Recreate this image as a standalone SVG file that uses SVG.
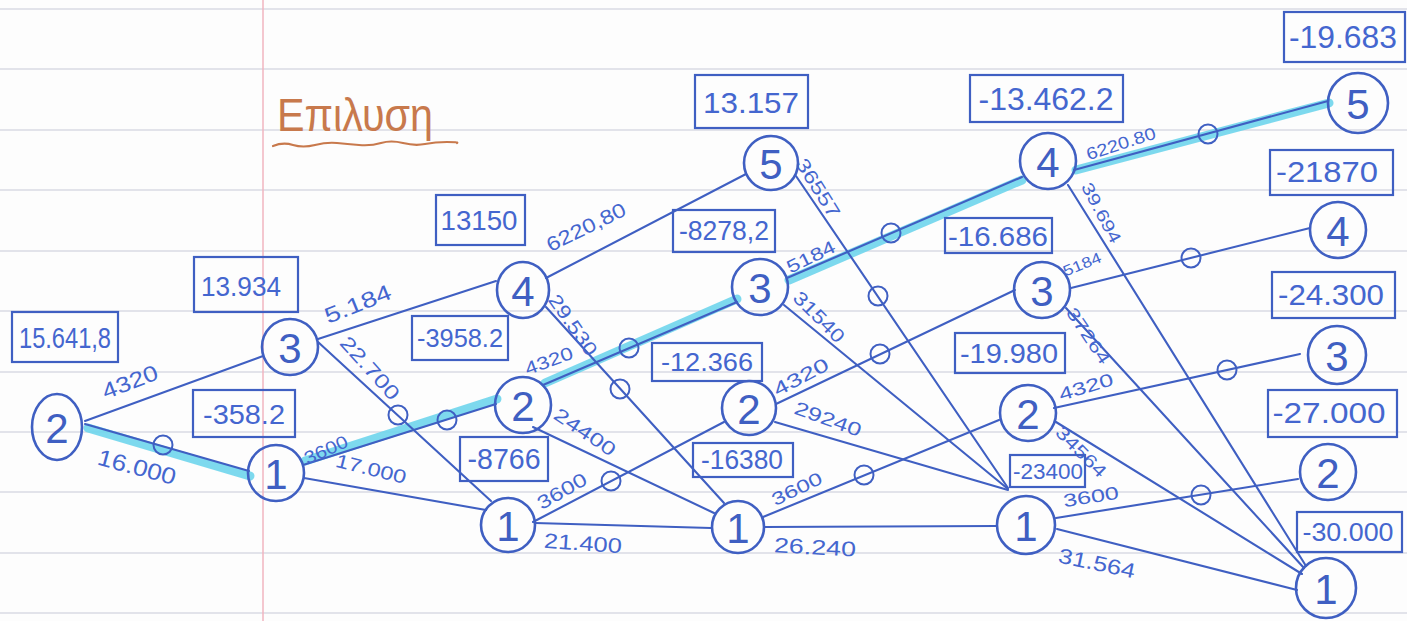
<svg xmlns="http://www.w3.org/2000/svg" width="1407" height="621" viewBox="0 0 1407 621">
  <defs>
    <style>
      .rule { stroke: #e2e3ea; stroke-width: 2; }
      .margin { stroke: #f0b4bf; stroke-width: 1.5; }
      .edge { stroke: #3f5fc2; stroke-width: 2.1; fill: none; stroke-linecap: round; }
      .hl { stroke: #6fd5ec; stroke-width: 9; fill: none; stroke-linecap: round; opacity: 0.9; }
      .mark { stroke: #3f5fc2; stroke-width: 2; fill: none; }
      .ring { stroke: #3f5fc2; stroke-width: 2.6; fill: none; }
      .box { stroke: #3f5fc2; stroke-width: 2.2; fill: none; }
      .digit { fill: #3f5fc2; font-family: 'Liberation Sans', sans-serif; font-size: 42px; text-anchor: middle; dominant-baseline: central; }
      .val { fill: #4466cf; font-family: 'Liberation Sans', sans-serif; text-anchor: middle; dominant-baseline: central; }
      .cost { fill: #4466cf; font-family: 'Liberation Sans', sans-serif; text-anchor: middle; dominant-baseline: central; }
      .title { fill: #c8794c; font-family: 'Liberation Sans', sans-serif; font-size: 46px; }
    </style>
  </defs>

  <!-- notebook paper -->
  <rect width="1407" height="621" fill="#fdfdfd"/>
  <g id="paper">
    <line class="rule" x1="0" y1="9" x2="1407" y2="9"/>
    <line class="rule" x1="0" y1="69" x2="1407" y2="69"/>
    <line class="rule" x1="0" y1="130" x2="1407" y2="130"/>
    <line class="rule" x1="0" y1="190" x2="1407" y2="190"/>
    <line class="rule" x1="0" y1="251" x2="1407" y2="251"/>
    <line class="rule" x1="0" y1="311" x2="1407" y2="311"/>
    <line class="rule" x1="0" y1="372" x2="1407" y2="372"/>
    <line class="rule" x1="0" y1="432" x2="1407" y2="432"/>
    <line class="rule" x1="0" y1="492" x2="1407" y2="492"/>
    <line class="rule" x1="0" y1="553" x2="1407" y2="553"/>
    <line class="rule" x1="0" y1="613" x2="1407" y2="613"/>
    <line class="margin" x1="263" y1="0" x2="263" y2="621"/>
  </g>

  <!-- heading -->
  <g id="heading">
    <text class="title" x="277" y="131" textLength="156" lengthAdjust="spacingAndGlyphs">Επιλυση</text>
    <path d="M273 146 q10 -4 20 -1 t22 0 t22 -2 t22 2 t22 -2 t22 0 t22 1 t22 -2 t10 1" stroke="#c8794c" stroke-width="2.2" fill="none" stroke-linecap="round"/>
  </g>

  <!-- optimal path highlight -->
  <g id="highlight">
    <line class="hl" x1="88" y1="428" x2="250" y2="476"/>
    <line class="hl" x1="305" y1="461" x2="497" y2="399"/>
    <line class="hl" x1="545" y1="383" x2="737" y2="299"/>
    <line class="hl" x1="789" y1="280" x2="1022" y2="180"/>
    <line class="hl" x1="1076" y1="170" x2="1329" y2="103"/>
  </g>

  <!-- connectors with costs and replacement marks -->
  <g id="connectors">
    <line class="edge" x1="85" y1="421" x2="263" y2="356"/>
    <line class="edge" x1="85" y1="424" x2="249" y2="471"/>
    <line class="edge" x1="318" y1="339" x2="496" y2="281"/>
    <line class="edge" x1="318" y1="342" x2="491" y2="501"/>
    <line class="edge" x1="303" y1="465" x2="496" y2="404"/>
    <line class="edge" x1="304" y1="478" x2="486" y2="510"/>
    <line class="edge" x1="546" y1="278" x2="746" y2="174"/>
    <line class="edge" x1="546" y1="307" x2="724" y2="503"/>
    <line class="edge" x1="543" y1="385" x2="737" y2="302"/>
    <line class="edge" x1="533" y1="427" x2="714" y2="513"/>
    <line class="edge" x1="533" y1="522" x2="724" y2="422"/>
    <line class="edge" x1="535" y1="523" x2="711" y2="528"/>
    <line class="edge" x1="796" y1="176" x2="1008" y2="488"/>
    <line class="edge" x1="787" y1="278" x2="1022" y2="177"/>
    <line class="edge" x1="784" y1="305" x2="1008" y2="489"/>
    <line class="edge" x1="776" y1="404" x2="1015" y2="290"/>
    <line class="edge" x1="775" y1="422" x2="1008" y2="490"/>
    <line class="edge" x1="763" y1="517" x2="999" y2="420"/>
    <line class="edge" x1="764" y1="527" x2="997" y2="526"/>
    <line class="edge" x1="1074" y1="170" x2="1328" y2="101"/>
    <line class="edge" x1="1068" y1="185" x2="1306" y2="566"/>
    <line class="edge" x1="1071" y1="288" x2="1310" y2="228"/>
    <line class="edge" x1="1066" y1="308" x2="1304" y2="568"/>
    <line class="edge" x1="1054" y1="408" x2="1300" y2="354"/>
    <line class="edge" x1="1056" y1="422" x2="1302" y2="574"/>
    <line class="edge" x1="1056" y1="518" x2="1298" y2="479"/>
    <line class="edge" x1="1057" y1="529" x2="1297" y2="590"/>

    <circle class="mark" cx="163" cy="445" r="9.5"/>
    <circle class="mark" cx="447" cy="420" r="9.5"/>
    <circle class="mark" cx="398" cy="415" r="9.5"/>
    <circle class="mark" cx="620" cy="389" r="9.5"/>
    <circle class="mark" cx="629" cy="348" r="9.5"/>
    <circle class="mark" cx="611" cy="481" r="9.5"/>
    <circle class="mark" cx="891" cy="233" r="9.5"/>
    <circle class="mark" cx="878" cy="296" r="9.5"/>
    <circle class="mark" cx="880" cy="354" r="9.5"/>
    <circle class="mark" cx="864" cy="475" r="9.5"/>
    <circle class="mark" cx="1208" cy="134" r="9.5"/>
    <circle class="mark" cx="1191" cy="258" r="9.5"/>
    <circle class="mark" cx="1227" cy="370" r="9.5"/>
    <circle class="mark" cx="1201" cy="495" r="9.5"/>

    <text class="cost" x="130" y="382" font-size="22" textLength="58" lengthAdjust="spacingAndGlyphs" transform="rotate(-21 130 382)">4320</text>
    <text class="cost" x="137" y="467" font-size="23" textLength="80" lengthAdjust="spacingAndGlyphs" transform="rotate(15 137 467)">16.000</text>
    <text class="cost" x="358" y="304" font-size="22" textLength="70" lengthAdjust="spacingAndGlyphs" transform="rotate(-22 358 304)">5.184</text>
    <text class="cost" x="370" y="368" font-size="20" textLength="78" lengthAdjust="spacingAndGlyphs" transform="rotate(48 370 368)">22.700</text>
    <text class="cost" x="326" y="450" font-size="18" textLength="46" lengthAdjust="spacingAndGlyphs" transform="rotate(-24 326 450)">3600</text>
    <text class="cost" x="371" y="469" font-size="19" textLength="72" lengthAdjust="spacingAndGlyphs" transform="rotate(14 371 469)">17.000</text>
    <text class="cost" x="586" y="227" font-size="20" textLength="86" lengthAdjust="spacingAndGlyphs" transform="rotate(-26 586 227)">6220,80</text>
    <text class="cost" x="573" y="325" font-size="19" textLength="70" lengthAdjust="spacingAndGlyphs" transform="rotate(55 573 325)">29.530</text>
    <text class="cost" x="549" y="361" font-size="18" textLength="50" lengthAdjust="spacingAndGlyphs" transform="rotate(-20 549 361)">4320</text>
    <text class="cost" x="585" y="432" font-size="19" textLength="70" lengthAdjust="spacingAndGlyphs" transform="rotate(34 585 432)">24400</text>
    <text class="cost" x="562" y="491" font-size="19" textLength="54" lengthAdjust="spacingAndGlyphs" transform="rotate(-30 562 491)">3600</text>
    <text class="cost" x="583" y="543" font-size="21" textLength="78" lengthAdjust="spacingAndGlyphs" transform="rotate(4 583 543)">21.400</text>
    <text class="cost" x="818" y="188" font-size="19" textLength="66" lengthAdjust="spacingAndGlyphs" transform="rotate(58 818 188)">36557</text>
    <text class="cost" x="811" y="257" font-size="18" textLength="52" lengthAdjust="spacingAndGlyphs" transform="rotate(-26 811 257)">5184</text>
    <text class="cost" x="819" y="317" font-size="19" textLength="64" lengthAdjust="spacingAndGlyphs" transform="rotate(45 819 317)">31540</text>
    <text class="cost" x="801" y="377" font-size="19" textLength="60" lengthAdjust="spacingAndGlyphs" transform="rotate(-28 801 377)">4320</text>
    <text class="cost" x="828" y="419" font-size="19" textLength="70" lengthAdjust="spacingAndGlyphs" transform="rotate(20 828 419)">29240</text>
    <text class="cost" x="797" y="489" font-size="18" textLength="54" lengthAdjust="spacingAndGlyphs" transform="rotate(-26 797 489)">3600</text>
    <text class="cost" x="815" y="547" font-size="21" textLength="82" lengthAdjust="spacingAndGlyphs" transform="rotate(3 815 547)">26.240</text>
    <text class="cost" x="1121" y="144" font-size="17" textLength="72" lengthAdjust="spacingAndGlyphs" transform="rotate(-18 1121 144)">6220.80</text>
    <text class="cost" x="1101" y="213" font-size="17" textLength="66" lengthAdjust="spacingAndGlyphs" transform="rotate(62 1101 213)">39.694</text>
    <text class="cost" x="1082" y="264" font-size="15" textLength="40" lengthAdjust="spacingAndGlyphs" transform="rotate(-22 1082 264)">5184</text>
    <text class="cost" x="1088" y="336" font-size="17" textLength="64" lengthAdjust="spacingAndGlyphs" transform="rotate(56 1088 336)">37264</text>
    <text class="cost" x="1086" y="387" font-size="18" textLength="56" lengthAdjust="spacingAndGlyphs" transform="rotate(-17 1086 387)">4320</text>
    <text class="cost" x="1081" y="452" font-size="18" textLength="64" lengthAdjust="spacingAndGlyphs" transform="rotate(45 1081 452)">34564</text>
    <text class="cost" x="1091" y="497" font-size="18" textLength="56" lengthAdjust="spacingAndGlyphs" transform="rotate(-9 1091 497)">3600</text>
    <text class="cost" x="1097" y="563" font-size="21" textLength="78" lengthAdjust="spacingAndGlyphs" transform="rotate(12 1097 563)">31.564</text>
  </g>

  <!-- stage 0 -->
  <g id="n0-2">
    <ellipse class="ring" cx="57" cy="427" rx="25" ry="33"/>
    <text class="digit" x="57" y="428">2</text>
    <rect class="box" x="12" y="312" width="106" height="50"/>
    <text class="val" x="65" y="338" font-size="29" textLength="92" lengthAdjust="spacingAndGlyphs">15.641,8</text>
  </g>

  <!-- stage 1 -->
  <g id="n1-3">
    <circle class="ring" cx="290" cy="347" r="28"/>
    <text class="digit" x="290" y="348">3</text>
    <rect class="box" x="194" y="257" width="104" height="55"/>
    <text class="val" x="241" y="286" font-size="28" textLength="80" lengthAdjust="spacingAndGlyphs">13.934</text>
  </g>
  <g id="n1-1">
    <circle class="ring" cx="276" cy="473" r="28"/>
    <text class="digit" x="276" y="474">1</text>
    <rect class="box" x="193" y="390" width="102" height="47"/>
    <text class="val" x="244" y="414" font-size="28" textLength="82" lengthAdjust="spacingAndGlyphs">-358.2</text>
  </g>

  <!-- stage 2 -->
  <g id="n2-4">
    <ellipse class="ring" cx="523" cy="290" rx="26" ry="28"/>
    <text class="digit" x="523" y="291">4</text>
    <rect class="box" x="436" y="195" width="89" height="50"/>
    <text class="val" x="479" y="220" font-size="28" textLength="77" lengthAdjust="spacingAndGlyphs">13150</text>
  </g>
  <g id="n2-2">
    <circle class="ring" cx="523" cy="405" r="28"/>
    <text class="digit" x="523" y="406">2</text>
    <rect class="box" x="412" y="316" width="96" height="44"/>
    <text class="val" x="460" y="338" font-size="26" textLength="86" lengthAdjust="spacingAndGlyphs">-3958.2</text>
  </g>
  <g id="n2-1">
    <circle class="ring" cx="508" cy="525" r="27"/>
    <text class="digit" x="508" y="526">1</text>
    <rect class="box" x="460" y="437" width="88" height="44"/>
    <text class="val" x="504" y="459" font-size="29" textLength="73" lengthAdjust="spacingAndGlyphs">-8766</text>
  </g>

  <!-- stage 3 -->
  <g id="n3-5">
    <circle class="ring" cx="771" cy="163" r="27"/>
    <text class="digit" x="771" y="164">5</text>
    <rect class="box" x="695" y="75" width="113" height="53"/>
    <text class="val" x="751" y="102" font-size="30" textLength="96" lengthAdjust="spacingAndGlyphs">13.157</text>
  </g>
  <g id="n3-3">
    <circle class="ring" cx="760" cy="287" r="28"/>
    <text class="digit" x="760" y="288">3</text>
    <rect class="box" x="673" y="210" width="102" height="42"/>
    <text class="val" x="724" y="231" font-size="27" textLength="90" lengthAdjust="spacingAndGlyphs">-8278,2</text>
  </g>
  <g id="n3-2">
    <circle class="ring" cx="749" cy="408" r="27"/>
    <text class="digit" x="749" y="409">2</text>
    <rect class="box" x="652" y="343" width="110" height="38"/>
    <text class="val" x="707" y="362" font-size="26" textLength="92" lengthAdjust="spacingAndGlyphs">-12.366</text>
  </g>
  <g id="n3-1">
    <circle class="ring" cx="738" cy="527" r="26"/>
    <text class="digit" x="738" y="528">1</text>
    <rect class="box" x="693" y="443" width="100" height="34"/>
    <text class="val" x="742" y="460" font-size="27" textLength="82" lengthAdjust="spacingAndGlyphs">-16380</text>
  </g>

  <!-- stage 4 -->
  <g id="n4-4">
    <circle class="ring" cx="1048" cy="161" r="28"/>
    <text class="digit" x="1048" y="162">4</text>
    <rect class="box" x="970" y="75" width="153" height="47"/>
    <text class="val" x="1046" y="99" font-size="31" textLength="135" lengthAdjust="spacingAndGlyphs">-13.462.2</text>
  </g>
  <g id="n4-3">
    <circle class="ring" cx="1042" cy="290" r="28"/>
    <text class="digit" x="1042" y="291">3</text>
    <rect class="box" x="945" y="218" width="107" height="35"/>
    <text class="val" x="998" y="236" font-size="28" textLength="100" lengthAdjust="spacingAndGlyphs">-16.686</text>
  </g>
  <g id="n4-2">
    <circle class="ring" cx="1028" cy="413" r="28"/>
    <text class="digit" x="1028" y="414">2</text>
    <rect class="box" x="955" y="333" width="110" height="40"/>
    <text class="val" x="1009" y="353" font-size="28" textLength="98" lengthAdjust="spacingAndGlyphs">-19.980</text>
  </g>
  <g id="n4-1">
    <circle class="ring" cx="1026" cy="525" r="29"/>
    <text class="digit" x="1026" y="526">1</text>
    <rect class="box" x="1010" y="455" width="75" height="32"/>
    <text class="val" x="1048" y="471" font-size="22" textLength="70" lengthAdjust="spacingAndGlyphs">-23400</text>
  </g>

  <!-- stage 5 -->
  <g id="n5-5">
    <circle class="ring" cx="1358" cy="103" r="30"/>
    <text class="digit" x="1358" y="104">5</text>
    <rect class="box" x="1284" y="12" width="121" height="50"/>
    <text class="val" x="1343" y="37" font-size="31" textLength="108" lengthAdjust="spacingAndGlyphs">-19.683</text>
  </g>
  <g id="n5-4">
    <circle class="ring" cx="1338" cy="230" r="28"/>
    <text class="digit" x="1338" y="231">4</text>
    <rect class="box" x="1270" y="150" width="123" height="45"/>
    <text class="val" x="1327" y="172" font-size="29" textLength="102" lengthAdjust="spacingAndGlyphs">-21870</text>
  </g>
  <g id="n5-3">
    <circle class="ring" cx="1337" cy="355" r="29"/>
    <text class="digit" x="1337" y="356">3</text>
    <rect class="box" x="1272" y="272" width="123" height="46"/>
    <text class="val" x="1331" y="295" font-size="29" textLength="106" lengthAdjust="spacingAndGlyphs">-24.300</text>
  </g>
  <g id="n5-2">
    <circle class="ring" cx="1328" cy="472" r="28"/>
    <text class="digit" x="1328" y="473">2</text>
    <rect class="box" x="1268" y="390" width="129" height="47"/>
    <text class="val" x="1329" y="413" font-size="29" textLength="113" lengthAdjust="spacingAndGlyphs">-27.000</text>
  </g>
  <g id="n5-1">
    <circle class="ring" cx="1326" cy="588" r="30"/>
    <text class="digit" x="1326" y="589">1</text>
    <rect class="box" x="1297" y="512" width="105" height="40"/>
    <text class="val" x="1348" y="532" font-size="26" textLength="91" lengthAdjust="spacingAndGlyphs">-30.000</text>
  </g>
</svg>
